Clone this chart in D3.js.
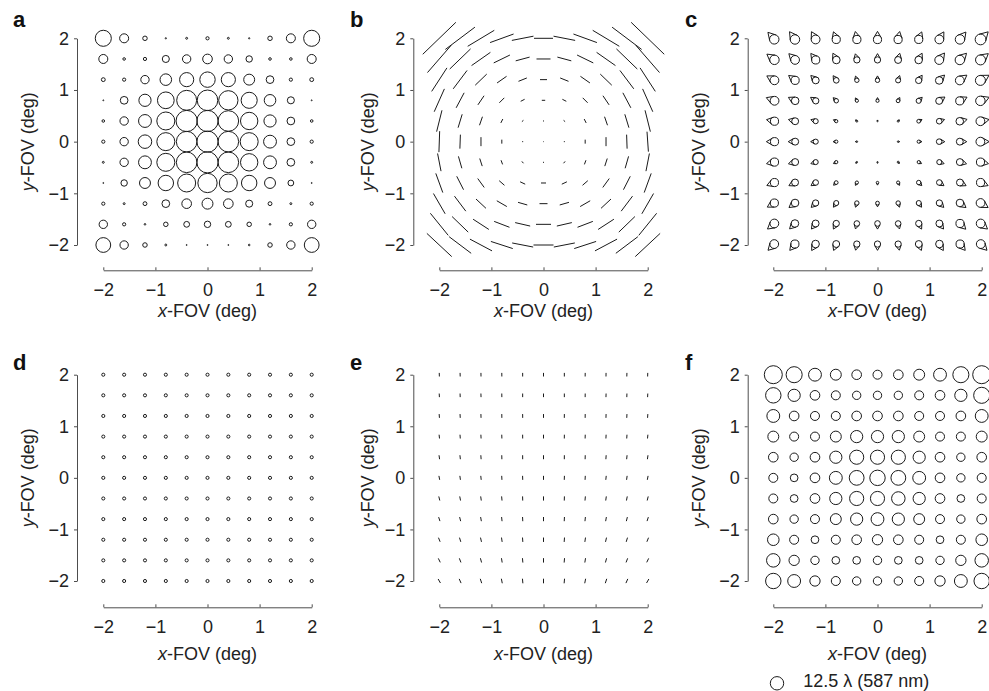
<!DOCTYPE html>
<html>
<head>
<meta charset="utf-8">
<script src="https://cdn.jsdelivr.net/npm/d3@7"></script>
<style>
  body { margin: 0; background: #fff; }
  svg { display: block; font-family: "Liberation Sans", Arial, Helvetica, sans-serif; }
</style>
</head>
<body>
<div id="chart"></div>
<script>
// field positions (deg), columns left->right, rows top->bottom
const fovSteps = [-2, -1.6, -1.2, -0.8, -0.4, 0, 0.4, 0.8, 1.2, 1.6, 2];
const fovRows = [2, 1.6, 1.2, 0.8, 0.4, 0, -0.4, -0.8, -1.2, -1.6, -2];
const axisTicks = [-2, -1, 0, 1, 2];
const panelLetters = ['a', 'b', 'c', 'd', 'e', 'f'];
const legendValue = 12.5;
const legendLabel = '12.5 \u03bb (587 nm)';

// a: defocus circle size (lambda)
const defocusA = [
  [15, 8.4, 4.2, 1.2, 1.8, 3, 1.8, 1.2, 4.2, 8.4, 15],
  [8.4, 2.4, 3, 6.6, 7.8, 9, 7.8, 6, 2.4, 2.4, 8.4],
  [3.6, 3, 7.8, 10.8, 13.2, 14.4, 13.2, 10.2, 7.2, 3, 3.6],
  [0.9, 7.2, 11.4, 15.6, 18.6, 19.2, 18, 15, 10.8, 6.6, 0.9],
  [2.4, 7.8, 12, 16.8, 19.8, 19.8, 19.2, 16.2, 11.4, 7.2, 2.4],
  [3, 7.8, 12.6, 16.8, 19.2, 19.8, 19.2, 16.8, 12, 7.2, 3],
  [1.8, 7.8, 12, 16.8, 19.2, 19.8, 19.2, 16.2, 12, 7.2, 1.8],
  [0.9, 6, 10.2, 14.4, 16.8, 18, 16.8, 14.4, 10.2, 5.4, 0.9],
  [3, 1.8, 3.6, 7.2, 9, 10.2, 9, 6.6, 3.6, 1.8, 3],
  [7.8, 3, 1.5, 4.2, 5.4, 6, 5.4, 4.2, 1.5, 3, 7.8],
  [13.8, 7.8, 4.2, 1.8, 0.9, 0.9, 0.9, 1.5, 4.2, 7.8, 13.8]
];

// b: astigmatism magnitude and orientation (deg)
const astigLen = [
  [23, 18.5, 15.5, 12.5, 11, 9.5, 11, 12.5, 15.5, 18.5, 23],
  [18, 14.5, 11.5, 9, 7.2, 7, 7.2, 9, 11.5, 14.5, 18],
  [14, 11.5, 8, 5.8, 4.5, 3.5, 4.5, 5.8, 8, 11.5, 14],
  [12.5, 8.5, 5.5, 3.5, 2.2, 1.7, 2.2, 3.5, 5.5, 8.5, 12.5],
  [11, 7, 4.5, 2.2, 1, 0.5, 1, 2.2, 4.5, 7, 11],
  [10.5, 7, 4.5, 2, 0.5, 0.3, 0.5, 2, 4.5, 7, 10],
  [9, 6.2, 4, 2.2, 1.2, 0.5, 1.2, 2.2, 4, 6.2, 9],
  [10.2, 7.5, 5.5, 3.5, 2.8, 2.5, 2.8, 3.5, 5.5, 7.5, 10.2],
  [11.7, 9.4, 6.8, 5.8, 4.8, 4, 4.8, 5.8, 6.8, 9.4, 11.7],
  [14.2, 11.2, 9.4, 8.2, 7.7, 7.5, 7.7, 8.2, 9.4, 11.2, 14.2],
  [17, 13.8, 12.5, 11.5, 10.7, 10, 10.7, 11.5, 12.5, 13.8, 17]
];
const astigAngle = [
  [44, 37, 31, 20, 11, 0, 169, 160, 149, 143, 136],
  [49, 44, 35, 26, 15, 0, 165, 154, 145, 136, 131],
  [57, 53, 44, 35, 22, 0, 158, 145, 136, 127, 123],
  [66, 62, 56, 45, 27, 0, 153, 135, 124, 118, 114],
  [76, 73, 71, 63, 40, 0, 140, 117, 109, 107, 104],
  [88, 88, 90, 90, 90, 0, 90, 90, 90, 92, 94],
  [101, 106, 108, 110, 130, 0, 50, 70, 72, 74, 79],
  [110, 117, 126, 139, 155, 0, 25, 41, 54, 63, 70],
  [120, 127, 137, 150, 164, 0, 16, 30, 43, 53, 60],
  [129, 136, 147, 159, 167, 0, 13, 21, 33, 44, 51],
  [137, 143, 152, 162, 169, 0, 11, 18, 28, 37, 43]
];

// c: coma size and tail direction (deg)
const comaSize = [
  [8.6, 8.6, 8, 7.4, 7.4, 7.4, 7.4, 7.4, 8, 8.6, 9.8],
  [8.6, 8, 7.4, 6.9, 5.7, 5.7, 6.3, 6.9, 8, 8.6, 9.1],
  [8, 7.4, 6.3, 5.1, 4, 4, 4.6, 5.7, 6.9, 8, 9.1],
  [8, 6.9, 5.7, 4, 2.9, 2.9, 3.4, 4.6, 6.3, 7.4, 8.6],
  [7.4, 6.3, 4.6, 2.9, 1.7, 1.1, 1.7, 3.4, 5.1, 6.9, 8],
  [7.4, 6.3, 4.6, 2.9, 1.4, 0, 1.4, 2.9, 5.1, 6.3, 8],
  [7.4, 6.3, 4.6, 2.9, 1.4, 1.1, 1.7, 2.9, 4.6, 6.3, 7.4],
  [7.4, 6.3, 5.1, 3.4, 2.9, 2.3, 2.9, 4, 5.1, 6.3, 7.4],
  [7.4, 6.9, 5.7, 4.6, 4, 3.4, 4, 4.6, 5.7, 6.9, 8],
  [8, 6.9, 6.3, 5.7, 5.1, 5.1, 5.1, 5.7, 6.3, 7.4, 8],
  [8, 7.4, 6.9, 6.3, 5.7, 5.7, 5.7, 6.3, 6.9, 7.4, 8]
];
const comaAngle = [
  [132, 125, 118, 110, 101, 90, 79, 68, 59, 51, 45],
  [143, 135, 127, 117, 104, 90, 76, 63, 53, 45, 39],
  [150, 143, 135, 124, 108, 90, 72, 56, 45, 37, 31],
  [159, 153, 146, 135, 117, 90, 63, 45, 34, 27, 22],
  [169, 166, 162, 153, 135, 90, 45, 27, 18, 14, 11],
  [180, 180, 180, 180, 180, 0, 0, 0, 0, 0, 0],
  [-169, -166, -162, -153, -135, -90, -45, -27, -18, -14, -11],
  [-159, -153, -146, -135, -117, -90, -63, -45, -34, -27, -22],
  [-150, -143, -135, -124, -108, -90, -72, -56, -45, -37, -31],
  [-141, -135, -127, -117, -104, -90, -76, -63, -53, -45, -39],
  [-135, -129, -121, -112, -101, -90, -79, -68, -59, -51, -45]
];

// d: spherical spot size (lambda)
const spotD = [
  [2.9, 2.9, 2.9, 2.9, 2.9, 2.9, 2.9, 2.9, 2.9, 2.9, 2.9],
  [2.9, 2.9, 2.9, 2.9, 2.9, 2.9, 2.9, 2.9, 2.9, 2.9, 2.9],
  [2.9, 2.9, 2.9, 2.9, 2.9, 2.9, 2.9, 2.9, 2.9, 2.9, 2.9],
  [2.9, 2.9, 2.9, 2.9, 2.9, 2.9, 2.9, 2.9, 2.9, 2.9, 2.9],
  [2.9, 2.9, 2.9, 2.9, 2.9, 2.9, 2.9, 2.9, 2.9, 2.9, 2.9],
  [2.9, 2.9, 2.9, 2.9, 2.9, 2.9, 2.9, 2.9, 2.9, 2.9, 2.9],
  [2.9, 2.9, 2.9, 2.9, 2.9, 2.9, 2.9, 2.9, 2.9, 2.9, 2.9],
  [2.9, 2.9, 2.9, 2.9, 2.9, 2.9, 2.9, 2.9, 2.9, 2.9, 2.9],
  [2.9, 2.9, 2.9, 2.9, 2.9, 2.9, 2.9, 2.9, 2.9, 2.9, 2.9],
  [2.9, 2.9, 2.9, 2.9, 2.9, 2.9, 2.9, 2.9, 2.9, 2.9, 2.9],
  [2.9, 2.9, 2.9, 2.9, 2.9, 2.9, 2.9, 2.9, 2.9, 2.9, 2.9]
];

// e: short marks, magnitude and orientation (deg)
const tiltLen = [
  [1.8, 1.8, 1.8, 1.8, 1.8, 1.8, 1.8, 1.8, 1.8, 1.8, 1.8],
  [1.8, 1.8, 1.8, 1.8, 1.8, 1.8, 1.8, 1.8, 1.8, 1.8, 1.8],
  [1.9, 1.9, 1.9, 1.9, 1.9, 1.9, 1.9, 1.9, 1.9, 1.9, 1.9],
  [1.9, 1.9, 1.9, 1.9, 1.9, 1.9, 1.9, 1.9, 1.9, 1.9, 1.9],
  [2, 2, 2, 2, 2, 2, 2, 2, 2, 2, 2],
  [2, 2, 2, 2, 2, 2, 2, 2, 2, 2, 2],
  [2.1, 2.1, 2.1, 2.1, 2.1, 2.1, 2.1, 2.1, 2.1, 2.1, 2.1],
  [2.1, 2.1, 2.1, 2.1, 2.1, 2.1, 2.1, 2.1, 2.1, 2.1, 2.1],
  [2.2, 2.2, 2.2, 2.2, 2.2, 2.2, 2.2, 2.2, 2.2, 2.2, 2.2],
  [2.2, 2.2, 2.2, 2.2, 2.2, 2.2, 2.2, 2.2, 2.2, 2.2, 2.2],
  [2.3, 2.3, 2.3, 2.3, 2.3, 2.3, 2.3, 2.3, 2.3, 2.3, 2.3]
];
const tiltAngle = [
  [92, 92, 91, 91, 90, 90, 90, 89, 89, 88, 88],
  [93, 92, 92, 91, 90, 90, 90, 89, 88, 88, 87],
  [94, 93, 92, 91, 91, 90, 89, 89, 88, 87, 86],
  [96, 94, 93, 92, 91, 90, 89, 88, 87, 86, 84],
  [98, 96, 94, 92, 91, 90, 89, 88, 86, 84, 82],
  [101, 98, 96, 93, 92, 90, 88, 87, 84, 82, 79],
  [104, 101, 98, 95, 92, 90, 88, 85, 82, 79, 76],
  [108, 104, 100, 96, 93, 90, 87, 84, 80, 76, 72],
  [112, 107, 103, 98, 94, 90, 86, 82, 77, 73, 68],
  [116, 111, 105, 99, 95, 90, 85, 81, 75, 69, 64],
  [120, 114, 108, 101, 95, 90, 85, 79, 72, 66, 60]
];

// f: total blur circle (lambda)
const totalF = [
  [16.8, 15, 12, 10.2, 9, 8.4, 9, 10.2, 12, 15, 16.8],
  [14.4, 11.4, 9, 8.4, 7.8, 7.8, 7.8, 8.4, 9, 11.4, 15],
  [12, 9, 8.4, 8.4, 9, 9, 9, 8.4, 8.4, 9, 12],
  [10.2, 8.4, 8.4, 10.2, 11.4, 11.4, 11.4, 10.2, 8.4, 8.4, 10.2],
  [9, 7.8, 9, 11.4, 13.2, 13.2, 13.2, 11.4, 9, 7.8, 9],
  [8.4, 7.2, 9, 12, 13.8, 14.4, 13.8, 12, 9, 7.8, 8.4],
  [8.4, 7.2, 9, 11.4, 13.2, 13.2, 12.6, 11.4, 9, 7.2, 8.4],
  [9, 7.8, 8.4, 10.2, 11.4, 12, 11.4, 10.2, 8.4, 7.8, 9],
  [10.8, 8.4, 7.2, 8.4, 9, 9.6, 9, 8.4, 7.2, 8.4, 10.8],
  [12.6, 9.6, 7.8, 7.2, 7.2, 7.8, 7.2, 7.2, 7.8, 9.6, 12.6],
  [14.4, 12, 9.6, 8.4, 7.8, 7.8, 7.8, 8.4, 9.6, 12, 14.4]
];

const width = 989, height = 691;
const ink = '#1a1a1a';
const axisInk = '#4d4d4d';

const colLayout = [
  { axisX: 77, left: 103.3, yLabelX: 27.5, letterX: 13 },
  { axisX: 413.3, left: 439.3, yLabelX: 368, letterX: 350 },
  { axisX: 747.7, left: 773.3, yLabelX: 698.5, letterX: 685 }
];
const rowLayout = [
  { top: 38.3, bottom: 245, xAxisY: 270.3, xLabelY: 317, letterY: 27 },
  { top: 374.7, bottom: 581, xAxisY: 607.3, xLabelY: 660, letterY: 370 }
];
const plotW = 208.4;

const rScale = d3.scaleLinear().domain([0, 12.5]).range([0, 6.7]);
const lenScale = d3.scaleLinear().domain([0, 10]).range([0, 20]);
const comaScale = d3.scaleLinear().domain([0, 10]).range([0, 5.5]);
const tickFmt = d3.format('d');

const svg = d3.select('#chart').append('svg')
  .attr('width', width)
  .attr('height', height);

function cells(values, angles) {
  let out = [];
  fovRows.forEach((fy, i) => {
    fovSteps.forEach((fx, j) => {
      out.push({ fx: fx, fy: fy, v: values[i][j], a: angles ? angles[i][j] : 0 });
    });
  });
  return out;
}

function makePanel(idx) {
  let c = colLayout[idx % 3];
  let r = rowLayout[Math.floor(idx / 3)];
  let x = d3.scaleLinear().domain([-2, 2]).range([c.left, c.left + plotW]);
  let y = d3.scaleLinear().domain([-2, 2]).range([r.bottom, r.top]);
  let g = svg.append('g');

  let yAxis = g.append('g')
    .attr('transform', `translate(${c.axisX},0)`)
    .call(d3.axisLeft(y).tickValues(axisTicks).tickFormat(tickFmt)
      .tickSize(3).tickSizeOuter(0).tickPadding(5));
  let xAxis = g.append('g')
    .attr('transform', `translate(0,${r.xAxisY})`)
    .call(d3.axisBottom(x).tickValues(axisTicks).tickFormat(tickFmt)
      .tickSize(-3).tickSizeOuter(0).tickPadding(12.5));

  [yAxis, xAxis].forEach(ax => {
    ax.attr('font-family', null).attr('font-size', null);
    ax.selectAll('path, line').attr('stroke', axisInk);
    ax.selectAll('text').attr('font-size', 18).attr('fill', '#222');
  });

  let xl = g.append('text')
    .attr('x', (c.left + c.left + plotW) / 2)
    .attr('y', r.xLabelY)
    .attr('text-anchor', 'middle')
    .attr('font-size', 18)
    .attr('fill', '#222');
  xl.append('tspan').attr('font-style', 'italic').text('x');
  xl.append('tspan').text('-FOV (deg)');

  let yl = g.append('text')
    .attr('transform', `translate(${c.yLabelX},${(r.top + r.bottom) / 2}) rotate(-90)`)
    .attr('dy', '0.35em')
    .attr('text-anchor', 'middle')
    .attr('font-size', 18)
    .attr('fill', '#222');
  yl.append('tspan').attr('font-style', 'italic').text('y');
  yl.append('tspan').text('-FOV (deg)');

  g.append('text')
    .attr('x', c.letterX)
    .attr('y', r.letterY)
    .attr('font-size', 22)
    .attr('font-weight', 'bold')
    .attr('fill', '#111')
    .text(panelLetters[idx]);

  return { g: g, x: x, y: y };
}

function drawCircles(p, values) {
  p.g.append('g').selectAll('circle')
    .data(cells(values).filter(d => d.v > 0))
    .join('circle')
    .attr('cx', d => p.x(d.fx))
    .attr('cy', d => p.y(d.fy))
    .attr('r', d => rScale(d.v))
    .attr('fill', 'none')
    .attr('stroke', ink)
    .attr('stroke-width', 1);
}

function drawSticks(p, values, angles) {
  p.g.append('g').selectAll('line')
    .data(cells(values, angles))
    .join('line')
    .each(function (d) {
      let half = lenScale(d.v) / 2;
      let t = d.a * Math.PI / 180;
      let dx = half * Math.cos(t), dy = -half * Math.sin(t);
      let cx = p.x(d.fx), cy = p.y(d.fy);
      d3.select(this)
        .attr('x1', cx - dx).attr('y1', cy - dy)
        .attr('x2', cx + dx).attr('y2', cy + dy);
    })
    .attr('stroke', ink)
    .attr('stroke-width', 1)
    .attr('stroke-linecap', 'butt');
}

function comaPath(cx, cy, rad, deg) {
  let t = deg * Math.PI / 180;
  let ux = Math.cos(t), uy = -Math.sin(t);
  let ox = cx - 0.3 * rad * ux, oy = cy - 0.3 * rad * uy;
  let ax = ox + 2 * rad * ux, ay = oy + 2 * rad * uy;
  let t1 = t + Math.PI / 3, t2 = t - Math.PI / 3;
  let path = d3.path();
  path.moveTo(ox + rad * Math.cos(t1), oy - rad * Math.sin(t1));
  path.lineTo(ax, ay);
  path.lineTo(ox + rad * Math.cos(t2), oy - rad * Math.sin(t2));
  path.moveTo(ox + rad, oy);
  path.arc(ox, oy, rad, 0, 2 * Math.PI);
  return path.toString();
}

function drawComa(p, values, angles) {
  p.g.append('g').selectAll('path')
    .data(cells(values, angles).filter(d => d.v > 0))
    .join('path')
    .attr('d', d => comaPath(p.x(d.fx), p.y(d.fy), comaScale(d.v), d.a))
    .attr('fill', 'none')
    .attr('stroke', ink)
    .attr('stroke-width', 1)
    .attr('stroke-linejoin', 'miter');
}

const panels = d3.range(6).map(makePanel);

drawCircles(panels[0], defocusA);
drawSticks(panels[1], astigLen, astigAngle);
drawComa(panels[2], comaSize, comaAngle);
drawCircles(panels[3], spotD);
drawSticks(panels[4], tiltLen, tiltAngle);
drawCircles(panels[5], totalF);

// legend under panel f
let legend = svg.append('g').attr('transform', 'translate(777,683.3)');
legend.append('circle')
  .attr('r', rScale(legendValue))
  .attr('fill', 'none')
  .attr('stroke', ink)
  .attr('stroke-width', 1);
legend.append('text')
  .attr('x', 26.3)
  .attr('y', -2.5)
  .attr('dy', '0.35em')
  .attr('font-size', 18)
  .attr('fill', '#222')
  .text(legendLabel);
</script>
</body>
</html>
